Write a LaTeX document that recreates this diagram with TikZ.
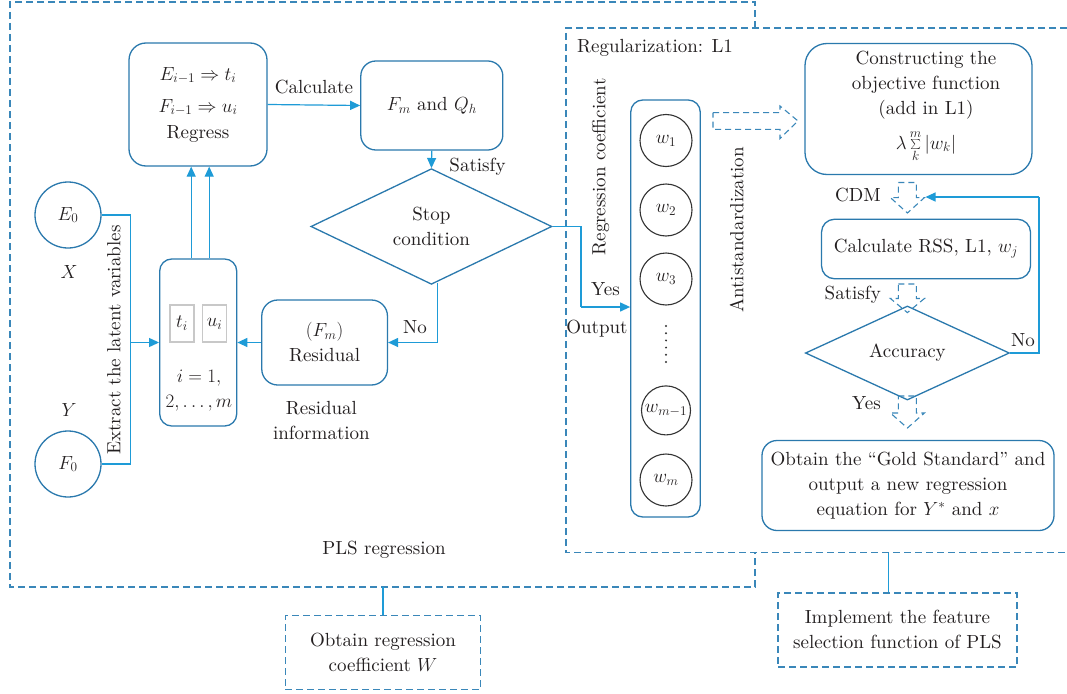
\RequirePackage{fix-cm}
\documentclass[tikz,border=0pt]{standalone}
\usepackage{fontspec}
\setmainfont{lmroman10-regular.otf}[ItalicFont=lmroman10-italic.otf,BoldFont=lmroman10-bold.otf,BoldItalicFont=lmroman10-bolditalic.otf]
\usetikzlibrary{arrows.meta,shapes.geometric,calc}
\definecolor{boxc}{HTML}{2A79AD}
\definecolor{arrc}{HTML}{1E9BD7}
\definecolor{dashc}{HTML}{3A87B9}
\definecolor{txt}{HTML}{231F20}
\definecolor{grayb}{HTML}{C8C8C8}
\definecolor{circc}{HTML}{333333}
\begin{document}
\begin{tikzpicture}[x=1pt,y=-1pt,
  font=\fontsize{19}{25}\selectfont, text=txt,
  box/.style={draw=boxc,line width=1.3pt,rounded corners=16pt,inner sep=0pt,align=center},
  dia/.style={diamond,draw=boxc,line width=1.3pt,inner sep=0pt,align=center},
  conn/.style={draw=arrc,line width=1.2pt},
  arr/.style={conn,-{Triangle[length=10pt,width=9pt]}},
  frame/.style={draw=dashc,line width=1.2pt,dash pattern=on 7pt off 4pt},
  dbox/.style={draw=dashc,line width=1.2pt,dash pattern=on 7pt off 4pt,inner sep=0pt,align=center},
  hollow/.style={draw=dashc,line width=1.1pt,dash pattern=on 6pt off 4pt,line join=miter},
  wc/.style={circle,draw=circc,line width=1.1pt,minimum size=52pt,inner sep=0pt},
  lab/.style={inner sep=0pt,align=center},
  ]
\fill[white] (0,0) rectangle (1067,693);
\useasboundingbox (0,0) rectangle (1067,693);

% frames
\draw[frame] (755,28) -- (755,2) -- (10,2) -- (10,587) -- (755,587) -- (755,552.7);
\draw[frame] (1067,28) -- (566,28) -- (566,552.7) -- (1067,552.7);
\coordinate (plsb) at (383,587);
\coordinate (l1b) at (888.4,552.7);

% left part
\node[box,minimum width=138pt,minimum height=123pt,rounded corners=17pt] (reg) at (198,104.5)
  {$E_{i-1}\Rightarrow t_i$\\[7pt]$F_{i-1}\Rightarrow u_i$\\[1pt]Regress};
\node[box,minimum width=142pt,minimum height=89pt,rounded corners=15pt] (fm) at (431.8,105.5) {$F_m$ and $Q_h$};
\node[dia,minimum width=241pt,minimum height=84pt] (stop) at (431.4,226.5) {Stop\\condition};
\node[box,minimum width=125.7pt,minimum height=85pt] (res) at (324.6,342.5) {$(F_m)$\\Residual};
\node[box,minimum width=77pt,minimum height=167pt,rounded corners=12pt] (tiui) at (198.2,342.5) {};
\node[draw=grayb,line width=1.2pt,minimum width=24pt,minimum height=37pt,inner sep=0pt] (tb) at (182,323.5) {$t_i$};
\node[draw=grayb,line width=1.2pt,minimum width=24pt,minimum height=37pt,inner sep=0pt] (ub) at (214.6,323.5) {$u_i$};
\node[lab] (iidx) at (199,391) {$i=1,$\\$2,\ldots,m$};

\node[circle,draw=boxc,line width=1.3pt,minimum size=66pt,inner sep=0pt] (E0) at (68,215) {$E_0$};
\node[circle,draw=boxc,line width=1.3pt,minimum size=66pt,inner sep=0pt] (F0) at (68,464) {$F_0$};
\node[lab] (Xl) at (69,272) {$X$};
\node[lab] (Yl) at (69,410) {$Y$};
\node[lab,rotate=90] (extract) at (114,340) {Extract the latent variables};

\node[lab] (calc) at (314,87) {Calculate};
\node[lab] (sat1) at (477.5,167) {Satisfy};
\node[lab] (no1) at (415,327) {No};
\node[lab] (resinfo) at (321.4,420.5) {Residual\\information};
\node[lab] (pls) at (384,550) {PLS regression};

\coordinate (jx) at (130.4,342.5);
\draw[conn] (E0.east) -| (jx);
\draw[conn] (F0.east) -| (jx);
\draw[arr] (jx) -- (tiui.west);
\draw[arr] ([xshift=-7pt]tiui.north) -- ([xshift=-7pt]tiui.north |- reg.south);
\draw[arr] ([xshift=11pt]tiui.north) -- ([xshift=11pt]tiui.north |- reg.south);
\draw[arr] (reg.east) -- (fm.west);
\draw[arr] (fm.south) -- (stop.north);
\draw[arr] ([xshift=6pt,yshift=2pt]stop.south) |- (res.east);
\draw[arr] (res.west) -- (tiui.east);

% right part
\node[lab,anchor=west] (regl1) at (577,48) {Regularization: L1};
\node[lab,rotate=90] (regcoef) at (600.5,167) {Regression coefficient};
\node[lab] (yes1) at (605.5,289) {Yes};
\node[lab] (outp) at (597,329) {Output};
\node[box,minimum width=69.5pt,minimum height=417pt,rounded corners=12pt] (wbox) at (665.5,308.5) {};
\node[wc] (w1) at (666,140.5) {$w_1$};
\node[wc] (w2) at (666,210) {$w_2$};
\node[wc] (w3) at (666,279) {$w_3$};
\node[wc,minimum size=49pt] (wm1) at (666,410.4) {$w_{m-1}$};
\node[wc] (wm) at (666,480) {$w_m$};
\draw[circc,line width=2.2pt,line cap=round,dash pattern=on 0pt off 7.2pt] (666,326) -- (666,363);
\node[lab,rotate=90] (antis) at (736.6,230) {Antistandardization};

\coordinate (ycorner) at (581,307);
\draw[conn] (stop.east) -| (ycorner);
\draw[arr] (ycorner) -- (ycorner -| wbox.west);

\node[box,minimum width=227pt,minimum height=131pt,rounded corners=22pt] (obj) at (918.5,109) {};
\node[lab] (objtxt) at (926,106) {Constructing the\\objective function\\(add in L1)\\[10pt]$\lambda\sum\limits_{k}^{m}|w_k|$};
\node[box,minimum width=209pt,minimum height=59.5pt,rounded corners=13pt] (rss) at (926,249) {Calculate RSS, L1, $w_j$};
\node[dia,minimum width=204pt,minimum height=69pt] (acc) at (907.4,353) {Accuracy};
\node[box,minimum width=292pt,minimum height=90pt,rounded corners=15pt] (gold) at (908,485.5)
  {Obtain the ``Gold Standard'' and\\output a new regression\\equation for $Y^{*}$ and $x$};

\node[lab,anchor=east] (cdm) at (881,195) {CDM};
\node[lab,anchor=east] (sat2) at (881,295) {Satisfy};
\node[lab,anchor=east] (yes2) at (881,403) {Yes};
\node[lab] (no2) at (1023,340) {No};

% hollow dashed arrows
\draw[hollow] (713,112.6) -- (780,112.6) -- (780,106) -- (798,121) -- (780,138.5) -- (780,129.4) -- (713,129.4) -- cycle;
\draw[hollow] (898.4,182.5) -- (916.4,182.5) -- (916.4,197.6) -- (924.4,197.6) -- (907.4,213) -- (890.4,197.6) -- (898.4,197.6) -- cycle;
\draw[hollow] (898.4,284) -- (916.4,284) -- (916.4,298.5) -- (924.4,298.5) -- (907.4,312.6) -- (890.4,298.5) -- (898.4,298.5) -- cycle;
\draw[hollow] (898.4,396) -- (916.4,396) -- (916.4,413) -- (924.4,413) -- (907.4,428) -- (890.4,413) -- (898.4,413) -- cycle;

\coordinate (nocorner) at (1039,197);
\coordinate (cdmr) at (925.5,197);
\draw[conn] (acc.east) -| (nocorner);
\draw[arr] (nocorner) -- (cdmr);

% bottom boxes
\node[dbox,minimum width=195.4pt,minimum height=73.6pt] (obtw) at (383,652.5) {Obtain regression\\coefficient $W$};
\node[dbox,minimum width=239pt,minimum height=74pt] (impl) at (897.5,630) {Implement the feature\\selection function of PLS};
\draw[conn] (plsb) -- (obtw.north);
\draw[conn] (l1b) -- (l1b |- impl.north);
\end{tikzpicture}
\end{document}
